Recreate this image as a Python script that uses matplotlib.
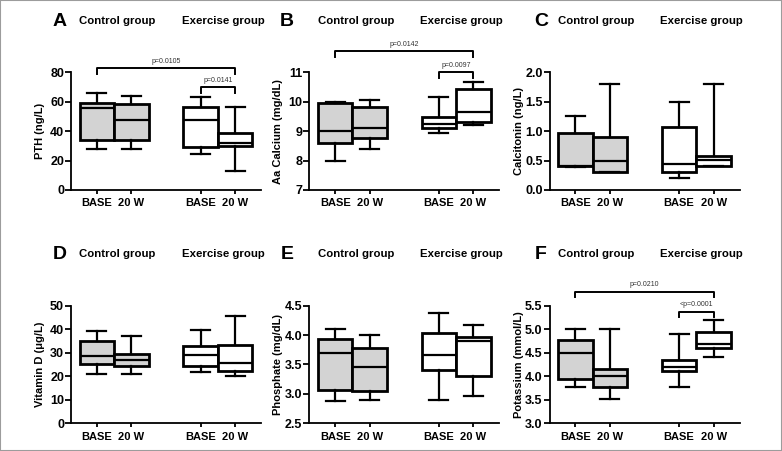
import numpy as np
import matplotlib
matplotlib.use("Agg")
import matplotlib.pyplot as plt
from matplotlib.patches import Rectangle

plt.rcParams['font.family'] = ['Liberation Sans', 'DejaVu Sans']

# box stats per panel: whislo, q1, median, q3, whishi
# order: control BASE, control 20 W, exercise BASE, exercise 20 W
labels = ['BASE', '20 W', 'BASE', '20 W']
positions = [0, 1, 3, 4]
fills = ['#d3d3d3', '#d3d3d3', 'white', 'white']

pth = [[28, 34, 55.5, 59, 66], [28, 34, 47.7, 58.3, 64],
       [24.6, 29.6, 47.7, 56.3, 63], [12.6, 30, 32.3, 39, 56.5]]
calcium = [[8.0, 8.6, 9.0, 9.95, 10.0], [8.4, 8.78, 9.12, 9.84, 10.06],
           [8.95, 9.1, 9.23, 9.47, 10.15], [9.22, 9.32, 9.64, 10.44, 10.66]]
calcitonin = [[0.40, 0.41, 0.41, 0.966, 1.26], [0.31, 0.31, 0.50, 0.91, 1.80],
              [0.20, 0.31, 0.45, 1.08, 1.50], [0.41, 0.41, 0.51, 0.58, 1.81]]
vitd = [[20.9, 25.2, 28.5, 35.0, 39.3], [20.9, 24.5, 26.8, 29.3, 37.2],
        [21.9, 24.4, 29.2, 32.8, 39.7], [20.1, 22.4, 25.5, 33.2, 45.6]]
phosphate = [[2.88, 3.06, 3.70, 3.94, 4.10], [2.90, 3.04, 3.45, 3.78, 4.00],
             [2.89, 3.40, 3.66, 4.03, 4.37], [2.97, 3.30, 3.90, 3.97, 4.17]]
potassium = [[3.77, 3.94, 4.5, 4.775, 5.0], [3.51, 3.77, 4.01, 4.155, 5.0],
             [3.76, 4.11, 4.19, 4.34, 4.9], [4.40, 4.61, 4.69, 4.94, 5.19]]

# comparisons: (box i, box j, text, bracket level)
comp_a = [(0, 3, 'p=0.0105', 83.0), (2, 3, 'p=0.0141', 69.8)]
comp_b = [(0, 3, 'p=0.0142', 11.72), (2, 3, 'p=0.0097', 11.0)]
comp_f = [(0, 3, 'p=0.0210', 5.80), (2, 3, '<p=0.0001', 5.37)]

panels = [
    ('A', pth, 'PTH (ng/L)', (0, 80), np.arange(0, 81, 20), '%d', comp_a),
    ('B', calcium, 'Aa Calcium (mg/dL)', (7, 11), np.arange(7, 12, 1), '%d', comp_b),
    ('C', calcitonin, 'Calcitonin (ng/L)', (0, 2), np.arange(0, 2.01, 0.5), '%.1f', []),
    ('D', vitd, 'Vitamin D (\u03bcg/L)', (0, 50), np.arange(0, 51, 10), '%d', []),
    ('E', phosphate, 'Phosphate (mg/dL)', (2.5, 4.5), np.arange(2.5, 4.51, 0.5), '%.1f', []),
    ('F', potassium, 'Potassium (mmol/L)', (3, 5.5), np.arange(3, 5.51, 0.5), '%.1f', comp_f),
]

W, H = 782, 451
fig = plt.figure(figsize=(W / 100, H / 100), dpi=100)
fig.patches.append(Rectangle((0, 0), 1, 1, transform=fig.transFigure,
                             fill=False, ec='#9c9c9c', lw=1.5))

lefts = [71, 309.3, 549.5]
tops = [72.5, 305.7]
aw, ah = 190, 117.5
letter_x = [-1.07, -1.4, -1.0]

for k, (letter, stats, ylab, ylim, yt, fmt, comps) in enumerate(panels):
    r, c = divmod(k, 3)
    ax = fig.add_axes([lefts[c] / W, 1 - (tops[r] + ah) / H, aw / W, ah / H])
    bstats = [dict(whislo=s[0], q1=s[1], med=s[2], q3=s[3], whishi=s[4], label=l)
              for s, l in zip(stats, labels)]
    bp = ax.bxp(bstats, positions=positions, widths=1.0, capwidths=0.55,
                patch_artist=True, showfliers=False,
                boxprops=dict(linewidth=2.0, edgecolor='black'),
                medianprops=dict(color='black', linewidth=1.6),
                whiskerprops=dict(color='black', linewidth=1.6),
                capprops=dict(color='black', linewidth=1.6))
    for patch, fc in zip(bp['boxes'], fills):
        patch.set_facecolor(fc)

    ax.set_xlim(-0.75, 4.75)
    ax.set_ylim(*ylim)
    ax.set_yticks(yt)
    ax.set_yticklabels([fmt % v for v in yt], fontsize=9, fontweight='bold')
    ax.set_xticks(positions)
    ax.set_xticklabels(labels, fontsize=8, fontweight='bold')
    ax.tick_params(axis='y', length=4, width=1.3, pad=1)
    ax.tick_params(axis='x', length=3, width=1.3, pad=3)
    for s in ['top', 'right']:
        ax.spines[s].set_visible(False)
    for s in ['left', 'bottom']:
        ax.spines[s].set_linewidth(1.3)
    ax.set_ylabel(ylab, fontsize=8, fontweight='bold')
    ax.yaxis.set_label_coords(-26 / aw, 0.5)

    tr = ax.get_xaxis_transform()
    ax.text(letter_x[c], 1.438, letter, transform=tr, fontsize=14,
            fontweight='bold', ha='center', va='center')
    ax.text(0.6, 1.438, 'Control group', transform=tr, fontsize=8.2,
            fontweight='bold', ha='center', va='center')
    ax.text(3.65, 1.438, 'Exercise group', transform=tr, fontsize=8.2,
            fontweight='bold', ha='center', va='center')

    span = ylim[1] - ylim[0]
    for i, j, txt, lev in comps:
        x1, x2 = positions[i], positions[j]
        drop = 0.047 * span
        ax.plot([x1, x1, x2, x2], [lev - drop, lev, lev, lev - drop],
                color='black', lw=1.4, clip_on=False)
        ax.text((x1 + x2) / 2, lev + 0.03 * span, txt, fontsize=5,
                ha='center', va='bottom', color='#333333')

fig.savefig('out.png', dpi=100)
